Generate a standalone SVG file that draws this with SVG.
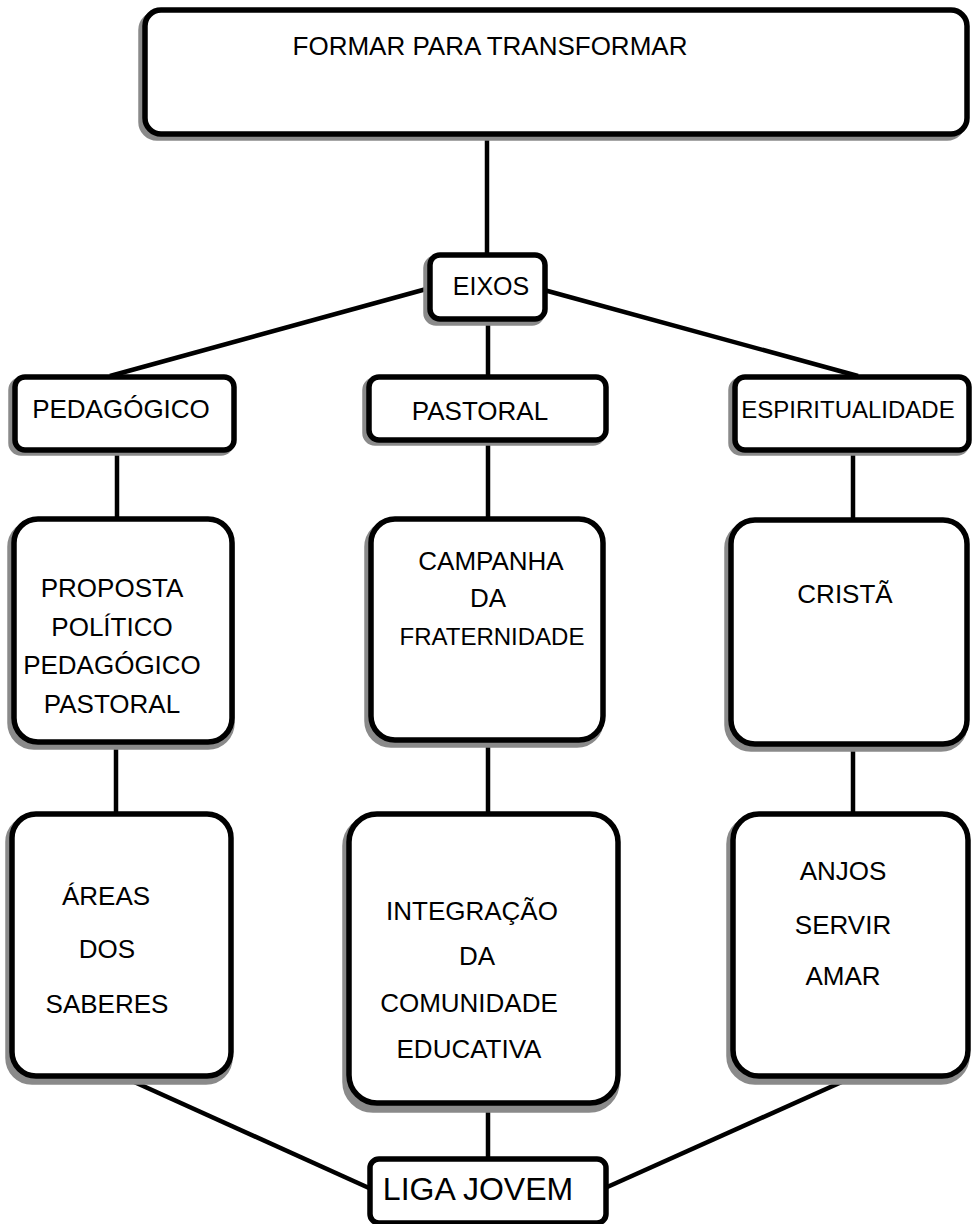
<svg xmlns="http://www.w3.org/2000/svg" width="975" height="1224" viewBox="0 0 975 1224">
<style>
.box{fill:#fff;stroke:#000;stroke-width:5.5}
.sh{fill:#8a8a8a;stroke:#8a8a8a;stroke-width:5.5}
.ln{stroke:#000;stroke-width:4.5;fill:none}
text{font-family:"Liberation Sans",Arial,sans-serif;fill:#000;text-anchor:middle}
</style>
<rect width="975" height="1224" fill="#fff"/>
<g id="connectors">
<line class="ln" x1="487" y1="135" x2="487" y2="256"/>
<line class="ln" x1="430" y1="288" x2="110" y2="376"/>
<line class="ln" x1="544" y1="290" x2="858" y2="376"/>
<line class="ln" x1="488" y1="318" x2="488" y2="377"/>
<line class="ln" x1="117" y1="448" x2="117" y2="520"/>
<line class="ln" x1="488" y1="441" x2="488" y2="520"/>
<line class="ln" x1="853" y1="448" x2="853" y2="520"/>
<line class="ln" x1="116" y1="742" x2="116" y2="814"/>
<line class="ln" x1="488" y1="740" x2="488" y2="814"/>
<line class="ln" x1="853" y1="744" x2="853" y2="814"/>
<line class="ln" x1="121" y1="1076" x2="369" y2="1188"/>
<line class="ln" x1="488" y1="1103" x2="488" y2="1159"/>
<line class="ln" x1="855" y1="1076" x2="605" y2="1188"/>
</g>
<g id="n-formar">
<rect class="sh" x="141" y="14" width="822" height="124" rx="16"/>
<rect class="box" x="145" y="10" width="822" height="124" rx="16"/>
<text x="490" y="55" font-size="26">FORMAR PARA TRANSFORMAR</text>
</g>
<g id="n-eixos">
<rect class="sh" x="426" y="258" width="116" height="65" rx="10"/>
<rect class="box" x="430" y="255" width="115" height="64" rx="10"/>
<text x="491" y="295" font-size="25">EIXOS</text>
</g>
<g id="n-pedagogico">
<rect class="sh" x="11" y="380" width="220" height="73" rx="10"/>
<rect class="box" x="15" y="377" width="219" height="73" rx="10"/>
<text x="121" y="418" font-size="26">PEDAGÓGICO</text>
</g>
<g id="n-pastoral">
<rect class="sh" x="365" y="380" width="238" height="63" rx="10"/>
<rect class="box" x="369" y="377" width="237" height="63" rx="10"/>
<text x="480" y="420" font-size="26">PASTORAL</text>
</g>
<g id="n-espiritualidade">
<rect class="sh" x="731" y="380" width="236" height="73" rx="10"/>
<rect class="box" x="735" y="377" width="234" height="73" rx="10"/>
<text x="848" y="418" font-size="24">ESPIRITUALIDADE</text>
</g>
<g id="n-proposta">
<rect class="sh" x="10" y="523" width="222" height="224" rx="24"/>
<rect class="box" x="14" y="519" width="218" height="223" rx="24"/>
<text x="112" y="597" font-size="26">PROPOSTA</text>
<text x="112" y="636" font-size="26">POLÍTICO</text>
<text x="112" y="674" font-size="26">PEDAGÓGICO</text>
<text x="112" y="713" font-size="26">PASTORAL</text>
</g>
<g id="n-campanha">
<rect class="sh" x="367" y="523" width="234" height="222" rx="24"/>
<rect class="box" x="371" y="519" width="232" height="221" rx="24"/>
<text x="491" y="570" font-size="26">CAMPANHA</text>
<text x="488" y="607" font-size="26">DA</text>
<text x="492" y="645" font-size="24">FRATERNIDADE</text>
</g>
<g id="n-crista">
<rect class="sh" x="727" y="524" width="238" height="225" rx="24"/>
<rect class="box" x="731" y="520" width="236" height="224" rx="24"/>
<text x="845" y="603" font-size="26">CRISTÃ</text>
</g>
<g id="n-areas">
<rect class="sh" x="8" y="818" width="222" height="264" rx="24"/>
<rect class="box" x="12" y="814" width="219" height="262" rx="24"/>
<text x="106" y="905" font-size="26">ÁREAS</text>
<text x="107" y="958" font-size="26">DOS</text>
<text x="107" y="1013" font-size="26">SABERES</text>
</g>
<g id="n-integracao">
<rect class="sh" x="345" y="818" width="272" height="292" rx="28"/>
<rect class="box" x="349" y="814" width="269" height="289" rx="28"/>
<text x="472" y="920" font-size="26">INTEGRAÇÃO</text>
<text x="477" y="965" font-size="26">DA</text>
<text x="469" y="1012" font-size="26">COMUNIDADE</text>
<text x="469" y="1058" font-size="26">EDUCATIVA</text>
</g>
<g id="n-anjos">
<rect class="sh" x="729" y="818" width="238" height="264" rx="26"/>
<rect class="box" x="733" y="814" width="235" height="262" rx="26"/>
<text x="843" y="880" font-size="26">ANJOS</text>
<text x="843" y="934" font-size="26">SERVIR</text>
<text x="843" y="985" font-size="26">AMAR</text>
</g>
<g id="n-liga">
<rect class="box" x="370" y="1159" width="236" height="64" rx="9"/>
<text x="478" y="1200" font-size="32">LIGA JOVEM</text>
</g>
</svg>
